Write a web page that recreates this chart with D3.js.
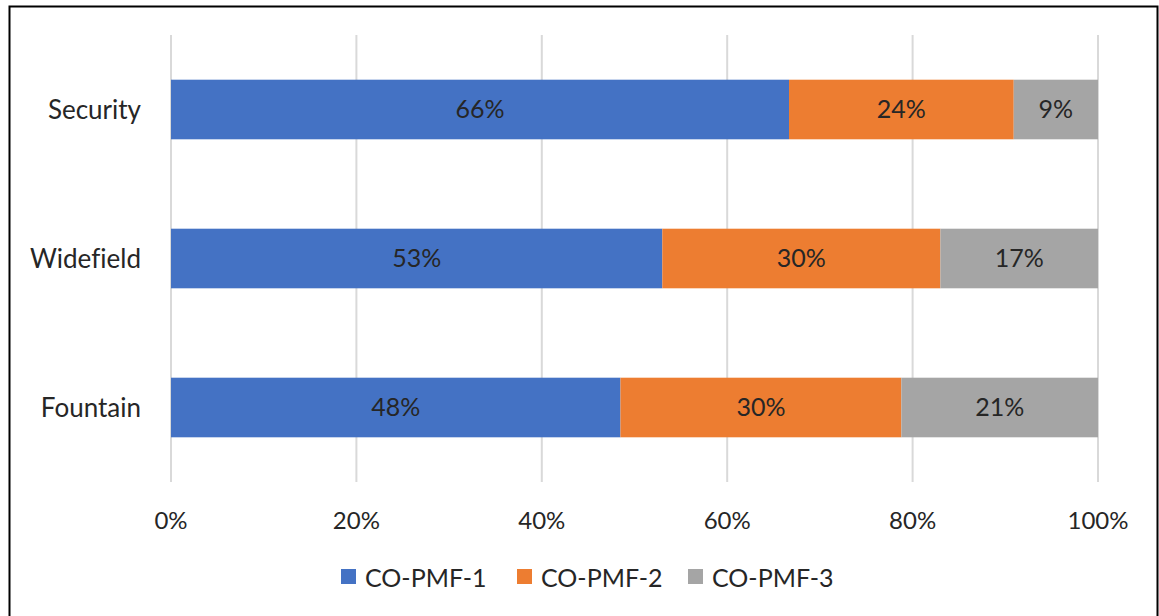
<!DOCTYPE html>
<html>
<head>
<meta charset="utf-8">
<script src="https://cdn.jsdelivr.net/npm/d3@7"></script>
<style>
  html, body { margin: 0; padding: 0; background: #fff; }
  svg { display: block; }
  text { font-family: Lato, "Open Sans", sans-serif; fill: #262626; font-variant-ligatures: none; }
</style>
</head>
<body>
<script>
// Source composition per site (percent share of each factor)
const categories = ["Security", "Widefield", "Fountain"];
const seriesNames = ["CO-PMF-1", "CO-PMF-2", "CO-PMF-3"];
const pmf1 = [66, 53, 48];
const pmf2 = [24, 30, 30];
const pmf3 = [9, 17, 21];
const tickValues = [0, 0.2, 0.4, 0.6, 0.8, 1.0];
const colors = ["#4472C4", "#ED7D31", "#A5A5A5"];

const W = 1159, H = 616;
const rows = categories.map((c, i) => ({
  site: c,
  "CO-PMF-1": pmf1[i],
  "CO-PMF-2": pmf2[i],
  "CO-PMF-3": pmf3[i]
}));

const svg = d3.select("body").append("svg").attr("width", W).attr("height", H);

// outer chart frame
svg.append("rect")
  .attr("x", 9.5).attr("y", 6.5)
  .attr("width", 1148).attr("height", 620)
  .attr("fill", "none").attr("stroke", "#000").attr("stroke-width", 2);

const x = d3.scaleLinear().domain([0, 1]).range([171, 1098]);
const y = d3.scaleBand().domain(categories).range([35, 482])
  .paddingInner(0.6).paddingOuter(0.3);

// vertical gridlines
svg.append("g").selectAll("line").data(tickValues).join("line")
  .attr("x1", d => x(d)).attr("x2", d => x(d))
  .attr("y1", 35).attr("y2", 482)
  .attr("stroke", "#D9D9D9").attr("stroke-width", 2);

// x-axis tick labels
const fmt = d3.format(".0%");
svg.append("g").selectAll("text").data(tickValues).join("text")
  .attr("x", d => x(d)).attr("y", 529)
  .attr("text-anchor", "middle")
  .attr("font-size", 24)
  .text(d => fmt(d));

// category labels
svg.append("g").selectAll("text").data(categories).join("text")
  .attr("x", 141).attr("y", d => y(d) + y.bandwidth() / 2)
  .attr("dy", "0.35em")
  .attr("text-anchor", "end")
  .attr("font-size", 26)
  .text(d => d);

// 100% stacked bars
const stacked = d3.stack().keys(seriesNames).offset(d3.stackOffsetExpand)(rows);

const layer = svg.append("g").selectAll("g").data(stacked).join("g")
  .attr("fill", (d, i) => colors[i]);

layer.selectAll("rect").data(d => d).join("rect")
  .attr("x", d => x(d[0]))
  .attr("width", d => x(d[1]) - x(d[0]))
  .attr("y", d => y(d.data.site))
  .attr("height", y.bandwidth());

// value labels centred in each segment
layer.selectAll("text").data((d) => d.map(p => ({ p, key: d.key }))).join("text")
  .attr("x", d => (x(d.p[0]) + x(d.p[1])) / 2)
  .attr("y", d => y(d.p.data.site) + y.bandwidth() / 2)
  .attr("dy", "0.35em")
  .attr("text-anchor", "middle")
  .attr("font-size", 25)
  .text(d => d.p.data[d.key] + "%");

// legend
const legendX = [341, 517, 688];
const legend = svg.append("g").selectAll("g").data(seriesNames).join("g")
  .attr("transform", (d, i) => `translate(${legendX[i]},569)`);
legend.append("rect")
  .attr("width", 15).attr("height", 15)
  .attr("fill", (d, i) => colors[i]);
legend.append("text")
  .attr("x", 24).attr("y", 18)
  .attr("font-size", 25)
  .text(d => d);
</script>
</body>
</html>
